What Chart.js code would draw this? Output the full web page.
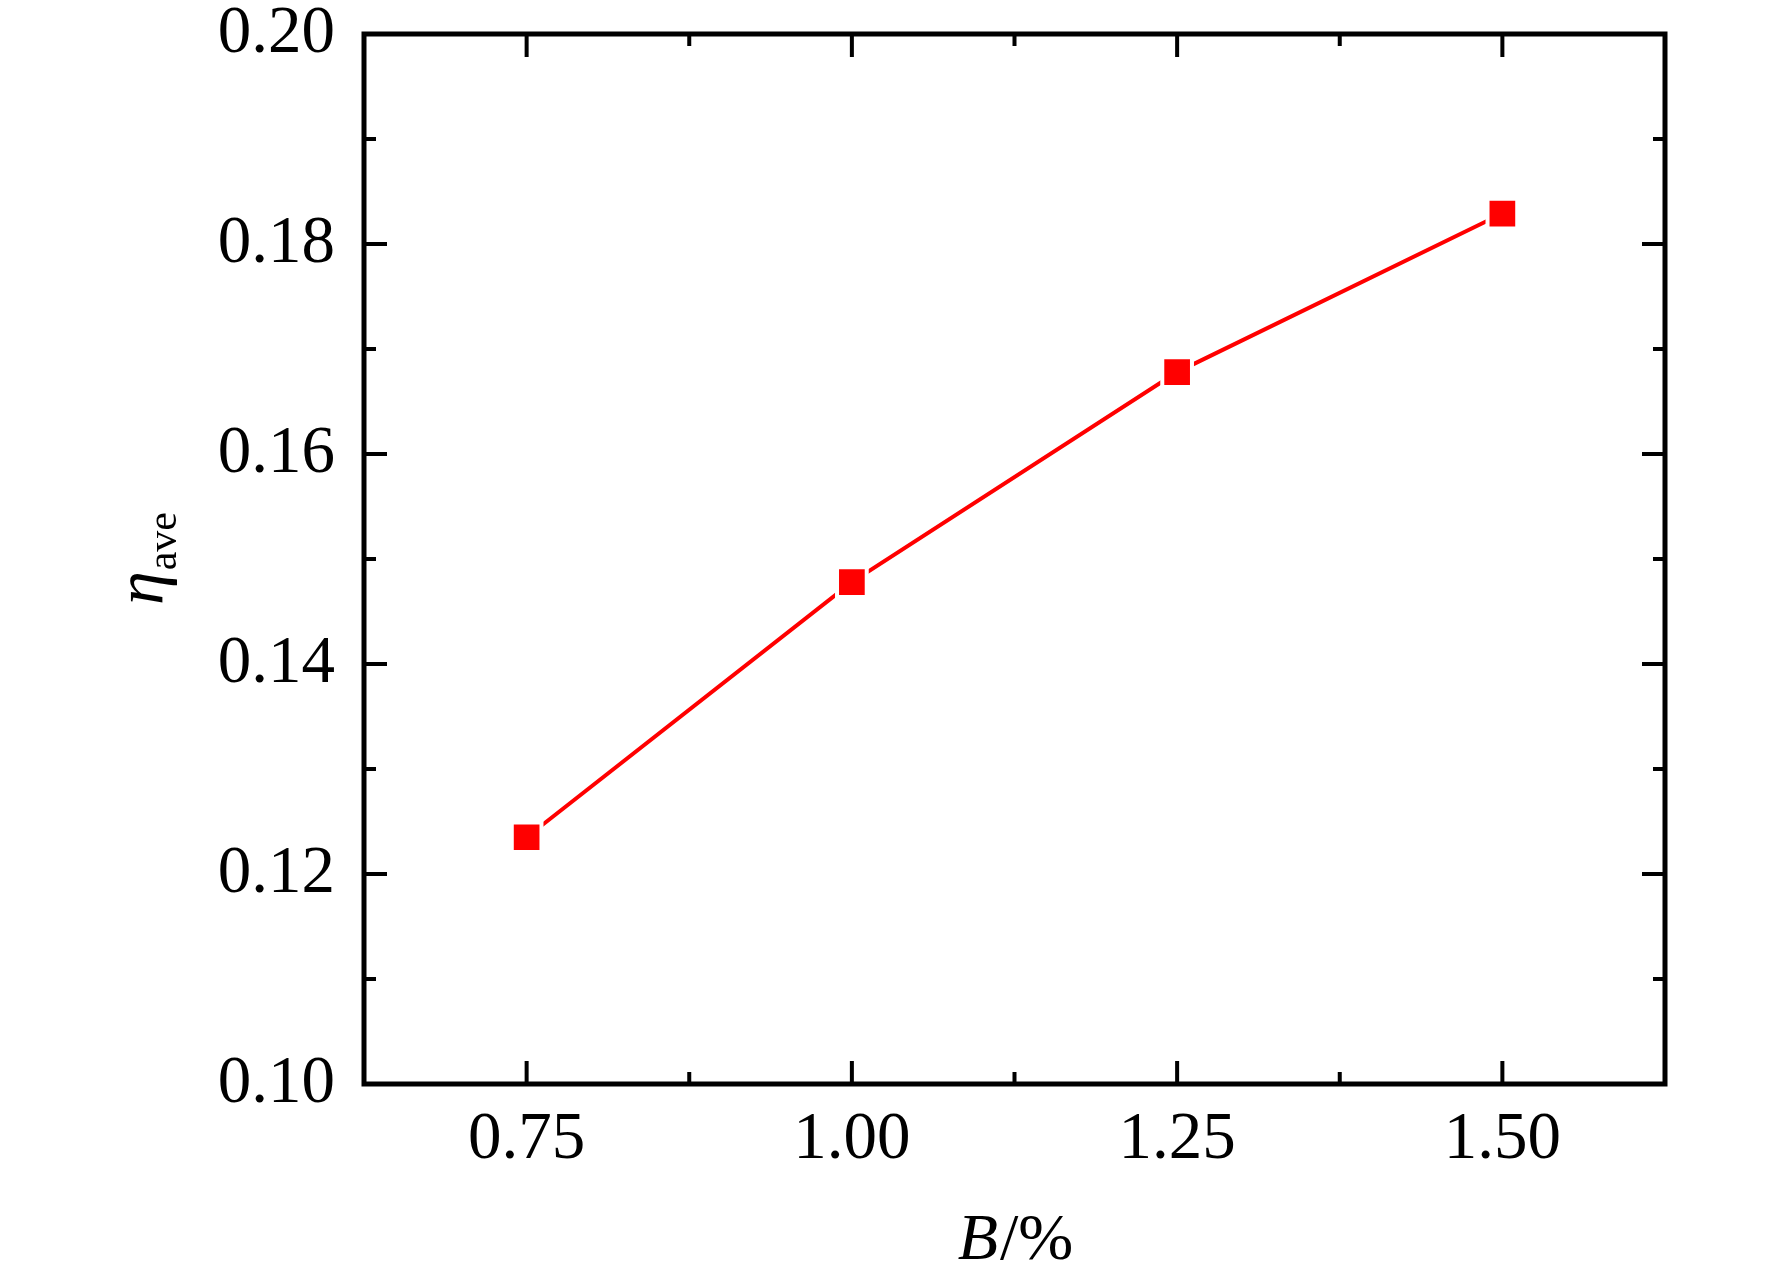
<!DOCTYPE html>
<html lang="en">
<head>
  <meta charset="UTF-8" />
  <title>n_ave vs B</title>
  <script src="https://cdn.jsdelivr.net/npm/chart.js"></script>
  <style>
    html, body { margin: 0; padding: 0; background: #ffffff; }
    #wrap { width: 1772px; height: 1280px; }
  </style>
</head>
<body>
  <div id="wrap"><canvas id="chart" width="1772" height="1280"></canvas></div>

  <script>
    // data
    const bValues = [0.75, 1.00, 1.25, 1.50];
    const etaValues = [0.1235, 0.1478, 0.1678, 0.1829];

    const xTicks = [0.75, 1.00, 1.25, 1.50];
    const yTicks = [0.10, 0.12, 0.14, 0.16, 0.18, 0.20];

    const serif = "'Liberation Serif', 'Times New Roman', serif";

    // frame + inward ticks on all four sides, then axis titles
    const framePlugin = {
      id: "frame",
      afterDraw(chart) {
        const { ctx, chartArea: a, scales: { x, y } } = chart;
        ctx.save();
        ctx.strokeStyle = "#000";
        ctx.lineWidth = 5;
        ctx.lineCap = "butt";
        ctx.strokeRect(a.left, a.top, a.right - a.left, a.bottom - a.top);

        const major = 23, minor = 12;
        ctx.lineWidth = 4;
        ctx.beginPath();
        xTicks.forEach((v, i) => {
          const px = x.getPixelForValue(v);
          ctx.moveTo(px, a.bottom); ctx.lineTo(px, a.bottom - major);
          ctx.moveTo(px, a.top); ctx.lineTo(px, a.top + major);
          if (i < xTicks.length - 1) {
            const pm = x.getPixelForValue((v + xTicks[i + 1]) / 2);
            ctx.moveTo(pm, a.bottom); ctx.lineTo(pm, a.bottom - minor);
            ctx.moveTo(pm, a.top); ctx.lineTo(pm, a.top + minor);
          }
        });
        yTicks.forEach((v, i) => {
          const py = y.getPixelForValue(v);
          ctx.moveTo(a.left, py); ctx.lineTo(a.left + major, py);
          ctx.moveTo(a.right, py); ctx.lineTo(a.right - major, py);
          if (i < yTicks.length - 1) {
            const pm = y.getPixelForValue((v + yTicks[i + 1]) / 2);
            ctx.moveTo(a.left, pm); ctx.lineTo(a.left + minor, pm);
            ctx.moveTo(a.right, pm); ctx.lineTo(a.right - minor, pm);
          }
        });
        ctx.stroke();

        // x title: B/%
        ctx.fillStyle = "#000";
        ctx.textBaseline = "alphabetic";
        ctx.textAlign = "left";
        const cx = (a.left + a.right) / 2;
        ctx.font = "italic 66px " + serif;
        const wB = ctx.measureText("B").width;
        ctx.font = "66px " + serif;
        const wRest = ctx.measureText("/%").width;
        let sx = cx - (wB + wRest) / 2;
        ctx.font = "italic 66px " + serif;
        ctx.fillText("B", sx, 1259);
        ctx.font = "66px " + serif;
        ctx.fillText("/%", sx + wB + 2, 1259);

        // y title: eta_ave, rotated
        ctx.save();
        ctx.translate(176, (a.top + a.bottom) / 2);
        ctx.rotate(-Math.PI / 2);
        ctx.font = "italic 68px " + serif;
        const wEta = ctx.measureText("η").width;
        ctx.font = "42px " + serif;
        const wSub = ctx.measureText("ave").width;
        sx = -(wEta + wSub) / 2;
        ctx.font = "italic 68px " + serif;
        ctx.fillText("η", sx, -13);
        ctx.font = "42px " + serif;
        ctx.fillText("ave", sx + wEta + 1, 0);
        ctx.restore();

        ctx.restore();
      }
    };

    new Chart(document.getElementById("chart"), {
      type: "line",
      data: {
        datasets: [{
          data: bValues.map((b, i) => ({ x: b, y: etaValues[i] })),
          borderColor: "#ff0000",
          borderWidth: 4,
          tension: 0,
          pointStyle: "rect",
          pointRadius: 21,
          pointHoverRadius: 21,
          pointBackgroundColor: "#ff0000",
          pointBorderColor: "#ffffff",
          pointBorderWidth: 4
        }]
      },
      options: {
        responsive: false,
        devicePixelRatio: 1,
        animation: false,
        layout: { padding: { top: 34, right: 107, left: 0, bottom: 0 } },
        plugins: {
          legend: { display: false },
          tooltip: { enabled: false }
        },
        scales: {
          x: {
            type: "linear",
            min: 0.625,
            max: 1.625,
            afterBuildTicks: s => { s.ticks = xTicks.map(v => ({ value: v })); },
            afterFit: s => { s.height = 196; s.paddingLeft = 0; s.paddingRight = 0; },
            grid: { display: false },
            border: { display: false },
            ticks: {
              color: "#000",
              padding: 8,
              font: { family: serif, size: 67 },
              callback: v => Number(v).toFixed(2)
            }
          },
          y: {
            min: 0.10,
            max: 0.20,
            afterBuildTicks: s => { s.ticks = yTicks.map(v => ({ value: v })); },
            afterFit: s => { s.width = 364; s.paddingTop = 0; s.paddingBottom = 0; },
            grid: { display: false },
            border: { display: false },
            ticks: {
              color: "#000",
              padding: 21,
              font: { family: serif, size: 67 },
              callback: v => Number(v).toFixed(2)
            }
          }
        }
      },
      plugins: [framePlugin]
    });
  </script>
</body>
</html>
